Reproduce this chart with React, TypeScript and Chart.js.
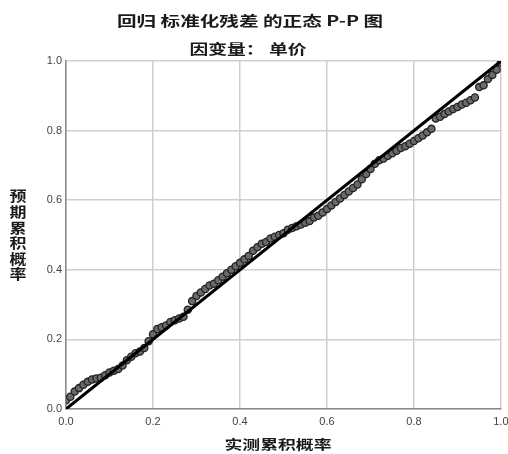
import React, { useEffect, useRef } from "react";
import { Chart, registerables } from "chart.js";

Chart.register(...registerables);

const TITLE = "回归 标准化残差 的正态 P-P 图";
const SUBTITLE = "因变量： 单价";
const X_TITLE = "实测累积概率";
const Y_TITLE = ["预", "期", "累", "积", "概", "率"];
const TICKS = [0, 0.2, 0.4, 0.6, 0.8, 1.0];

// observed cumulative probability
const observed = [
  0.0, 0.01, 0.02, 0.03, 0.04, 0.05, 0.06, 0.07, 0.08, 0.09,
  0.1, 0.11, 0.12, 0.13, 0.14, 0.15, 0.16, 0.17, 0.18, 0.19,
  0.2, 0.21, 0.22, 0.23, 0.24, 0.25, 0.26, 0.27, 0.28, 0.29,
  0.3, 0.31, 0.32, 0.33, 0.34, 0.35, 0.36, 0.37, 0.38, 0.39,
  0.4, 0.41, 0.42, 0.43, 0.44, 0.45, 0.46, 0.47, 0.48, 0.49,
  0.5, 0.51, 0.52, 0.53, 0.54, 0.55, 0.56, 0.57, 0.58, 0.59,
  0.6, 0.61, 0.62, 0.63, 0.64, 0.65, 0.66, 0.67, 0.68, 0.69,
  0.7, 0.71, 0.72, 0.73, 0.74, 0.75, 0.76, 0.77, 0.78, 0.79,
  0.8, 0.81, 0.82, 0.83, 0.84, 0.85, 0.86, 0.87, 0.88, 0.89,
  0.9, 0.91, 0.92, 0.93, 0.94, 0.95, 0.96, 0.97, 0.98, 0.99, 1.0,
];

// expected cumulative probability
const expected = [
  0.025, 0.035, 0.05, 0.06, 0.07, 0.078, 0.085, 0.088, 0.09, 0.097,
  0.105, 0.11, 0.115, 0.125, 0.14, 0.15, 0.16, 0.165, 0.175, 0.195,
  0.215, 0.23, 0.235, 0.24, 0.25, 0.255, 0.26, 0.265, 0.285, 0.31,
  0.325, 0.335, 0.345, 0.355, 0.36, 0.37, 0.38, 0.39, 0.4, 0.41,
  0.42, 0.43, 0.44, 0.455, 0.465, 0.475, 0.48, 0.49, 0.495, 0.5,
  0.505, 0.515, 0.52, 0.525, 0.53, 0.535, 0.54, 0.55, 0.555, 0.565,
  0.575, 0.585, 0.595, 0.605, 0.615, 0.625, 0.635, 0.645, 0.66, 0.675,
  0.69, 0.705, 0.715, 0.72, 0.728, 0.735, 0.742, 0.75, 0.755, 0.762,
  0.77, 0.778, 0.786, 0.795, 0.805, 0.835, 0.84, 0.848, 0.855, 0.862,
  0.868, 0.875, 0.88, 0.887, 0.895, 0.925, 0.93, 0.948, 0.96, 0.975, 0.995,
];

const refLine = [0, 1];

const CJK = "'Noto Sans CJK SC', sans-serif";

function drawScaled(
  ctx: CanvasRenderingContext2D,
  text: string,
  cx: number,
  cy: number,
  targetW: number,
  font: string
) {
  ctx.save();
  ctx.font = font;
  const w = ctx.measureText(text).width;
  const sx = targetW / w;
  ctx.translate(cx, cy);
  ctx.scale(sx, 1);
  ctx.textAlign = "center";
  ctx.textBaseline = "middle";
  ctx.fillStyle = "#1a1a1a";
  ctx.fillText(text, 0, 0);
  ctx.restore();
}

const titlesPlugin = {
  id: "ppTitles",
  afterDraw(chart: any) {
    const ctx = chart.ctx as CanvasRenderingContext2D;
    drawScaled(ctx, TITLE, 250, 21, 266, `bold 14px ${CJK}`);
    drawScaled(ctx, SUBTITLE, 248, 49, 117, `bold 14px ${CJK}`);
    drawScaled(ctx, X_TITLE, 278, 444, 107, `bold 13px ${CJK}`);
    Y_TITLE.forEach((ch, i) => {
      drawScaled(ctx, ch, 18, 196 + i * 15.6, 17, `bold 14px ${CJK}`);
    });
  },
};

export default function App() {
  const ref = useRef<HTMLCanvasElement>(null);

  useEffect(() => {
    document.body.style.margin = "0";
    const canvas = ref.current!;
    const points = observed.map((x, i) => ({ x, y: expected[i] }));
    const line = refLine.map((v) => ({ x: v, y: v }));
    const chart = new Chart(canvas, {
      type: "scatter",
      data: {
        datasets: [
          {
            type: "line",
            data: line,
            borderColor: "#000000",
            borderWidth: 3,
            pointRadius: 0,
            order: 0,
          } as any,
          {
            type: "scatter",
            data: points,
            backgroundColor: "#6a6a6a",
            borderColor: "#222222",
            borderWidth: 1.3,
            pointRadius: 3.6,
            order: 1,
          },
        ],
      },
      options: {
        animation: false,
        responsive: false,
        layout: { padding: { top: 61, right: 7, left: 0, bottom: 0 } },
        plugins: {
          legend: { display: false },
          title: { display: false },
          tooltip: { enabled: false },
        },
        scales: {
          x: {
            type: "linear",
            min: 0,
            max: 1,
            afterBuildTicks: (s: any) => {
              s.ticks = TICKS.map((v) => ({ value: v }));
            },
            afterFit: (s: any) => {
              s.height = 45;
              s.paddingLeft = 0;
              s.paddingRight = 0;
            },
            grid: { color: "#cfcfcf", lineWidth: 1.5, drawTicks: false },
            border: { color: "#8a8a8a", width: 1.5 },
            ticks: {
              padding: 6,
              color: "#444",
              font: { family: "'Liberation Sans', Arial, sans-serif", size: 11 },
              callback: (v: any) => Number(v).toFixed(1),
            },
          },
          y: {
            type: "linear",
            min: 0,
            max: 1,
            afterBuildTicks: (s: any) => {
              s.ticks = TICKS.map((v) => ({ value: v }));
            },
            afterFit: (s: any) => {
              s.width = 66;
              s.paddingTop = 0;
              s.paddingBottom = 0;
            },
            grid: { color: "#cfcfcf", lineWidth: 1.5, drawTicks: false },
            border: { color: "#8a8a8a", width: 1.5 },
            ticks: {
              padding: 4,
              color: "#444",
              font: { family: "'Liberation Sans', Arial, sans-serif", size: 11 },
              callback: (v: any) => Number(v).toFixed(1),
            },
          },
        },
      },
      plugins: [titlesPlugin],
    });
    return () => chart.destroy();
  }, []);

  return (
    <div style={{ width: 508, height: 454, background: "#fff" }}>
      <canvas ref={ref} width={508} height={454} />
    </div>
  );
}
